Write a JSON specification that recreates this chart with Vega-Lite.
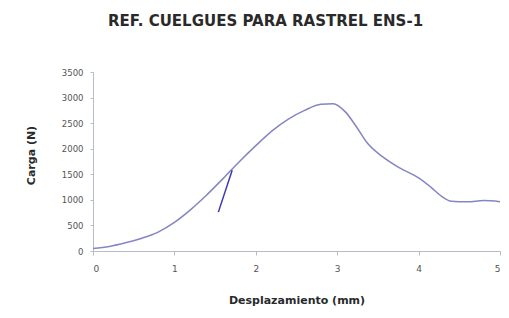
{
  "$schema": "https://vega.github.io/schema/vega-lite/v6.json",
  "width": 407,
  "height": 179,
  "autosize": "none",
  "padding": {"left": 93, "top": 72, "right": 9, "bottom": 67},
  "background": "white",
  "title": {"text": "REF. CUELGUES PARA RASTREL ENS-1", "fontSize": 15, "font": "DejaVu Sans", "fontWeight": "bold", "color": "#2a2a2a", "anchor": "middle", "dx": -31, "offset": 39},
  "config": {"view": {"stroke": null}},
  "datasets": {
    "main": [
      {"x": 0, "y": 50}, {"x": 0.2, "y": 90}, {"x": 0.4, "y": 160}, {"x": 0.6, "y": 250},
      {"x": 0.8, "y": 370}, {"x": 1.0, "y": 560}, {"x": 1.2, "y": 810}, {"x": 1.4, "y": 1100},
      {"x": 1.6, "y": 1420}, {"x": 1.8, "y": 1750}, {"x": 2.0, "y": 2060}, {"x": 2.2, "y": 2350},
      {"x": 2.4, "y": 2580}, {"x": 2.6, "y": 2750}, {"x": 2.8, "y": 2870}, {"x": 2.95, "y": 2880},
      {"x": 3.1, "y": 2720}, {"x": 3.24, "y": 2420}, {"x": 3.37, "y": 2110}, {"x": 3.56, "y": 1840},
      {"x": 3.75, "y": 1640}, {"x": 4.0, "y": 1430}, {"x": 4.15, "y": 1250}, {"x": 4.3, "y": 1050},
      {"x": 4.4, "y": 975}, {"x": 4.6, "y": 965}, {"x": 4.8, "y": 985}, {"x": 5.0, "y": 965}
    ],
    "second": [
      {"x": 1.54, "y": 760}, {"x": 1.71, "y": 1580}
    ]
  },
  "encoding": {
    "x": {"field": "x", "type": "quantitative", "scale": {"domain": [0, 5], "nice": false},
      "axis": {"title": "Desplazamiento (mm)", "values": [0, 1, 2, 3, 4, 5], "format": "d", "labelOverlap": false, "grid": false,
        "domainColor": "#bbbbc8", "tickColor": "#bbbbc8", "tickSize": 4,
        "labelFont": "DejaVu Sans", "labelFontSize": 9, "labelColor": "#555", "labelPadding": 9,
        "titleFont": "DejaVu Sans", "titleFontSize": 11, "titleFontWeight": "bold", "titleColor": "#2a2a2a", "titleY": 43}},
    "y": {"field": "y", "type": "quantitative", "scale": {"domain": [0, 3500], "nice": false},
      "axis": {"title": "Carga (N)", "values": [0, 500, 1000, 1500, 2000, 2500, 3000, 3500], "format": "d", "labelOverlap": false, "grid": false,
        "domainColor": "#bbbbc8", "tickColor": "#bbbbc8", "tickSize": 3,
        "labelFont": "DejaVu Sans", "labelFontSize": 8.5, "labelColor": "#555", "labelPadding": 7,
        "titleFont": "DejaVu Sans", "titleFontSize": 11, "titleFontWeight": "bold", "titleColor": "#2a2a2a", "titleX": -57, "titleY": 83}}
  },
  "layer": [
    {
      "data": {"name": "main"},
      "mark": {"type": "line", "color": "#8585c4", "strokeWidth": 1.5, "interpolate": "monotone"}
    },
    {
      "data": {"name": "second"},
      "mark": {"type": "line", "color": "#3a3ab0", "strokeWidth": 1.5}
    }
  ]
}
